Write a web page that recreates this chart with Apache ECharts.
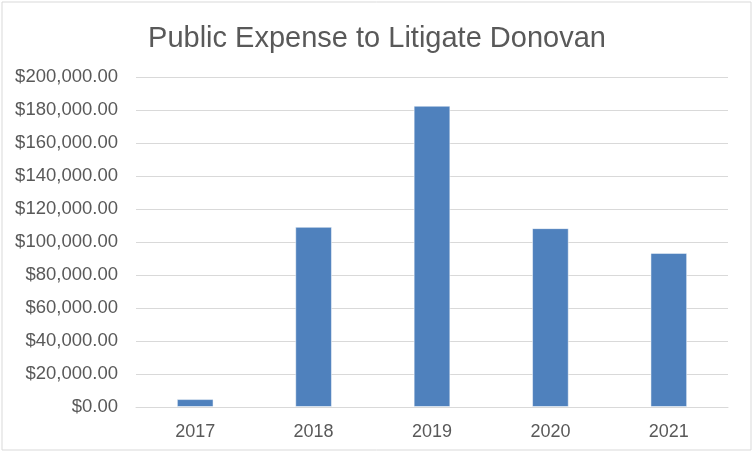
<!DOCTYPE html>
<html>
<head>
<meta charset="utf-8">
<script src="https://cdn.jsdelivr.net/npm/echarts@6/dist/echarts.min.js"></script>
<style>
  html, body { margin: 0; padding: 0; background: #fff; }
  #chart { width: 754px; height: 454px; }
</style>
</head>
<body>
<div id="chart"></div>
<script>
var years = ["2017", "2018", "2019", "2020", "2021"];
var expense = [4800, 109200, 182600, 108400, 93400];
var yTicks = [0, 20000, 40000, 60000, 80000, 100000, 120000, 140000, 160000, 180000, 200000];

function money(v) {
    return "$" + v.toLocaleString("en-US", { minimumFractionDigits: 2, maximumFractionDigits: 2 });
}

var chart = echarts.init(document.getElementById("chart"));
var option = {
    animation: false,
    textStyle: { fontFamily: "Liberation Sans, Arial, sans-serif" },
    title: {
        text: "Public Expense to Litigate Donovan",
        left: "center",
        top: 19,
        textStyle: { fontSize: 29, fontWeight: "normal", color: "#595959" }
    },
    // outer chart border
    graphic: [{
        type: "rect",
        shape: { x: 2, y: 2, width: 749, height: 448 },
        style: { fill: "none", stroke: "#d9d9d9", lineWidth: 1 },
        silent: true
    }],
    grid: { left: 136, right: 26, top: 77, bottom: 47 },
    xAxis: {
        type: "category",
        data: years,
        axisTick: { show: false },
        axisLine: { lineStyle: { color: "#d9d9d9", width: 1 } },
        axisLabel: { color: "#595959", fontSize: 18, margin: 16 }
    },
    yAxis: {
        type: "value",
        min: yTicks[0],
        max: yTicks[yTicks.length - 1],
        interval: yTicks[1] - yTicks[0],
        axisLine: { show: false },
        axisTick: { show: false },
        splitLine: { lineStyle: { color: "#d9d9d9", width: 1 } },
        axisLabel: { color: "#595959", fontSize: 18.5, margin: 18, formatter: money }
    },
    series: [{
        type: "bar",
        data: expense,
        barWidth: "31%",
        itemStyle: { color: "#4f81bd", borderColor: "rgba(255,255,255,0.5)", borderWidth: 1 }
    }]
};
chart.setOption(option);
</script>
</body>
</html>
